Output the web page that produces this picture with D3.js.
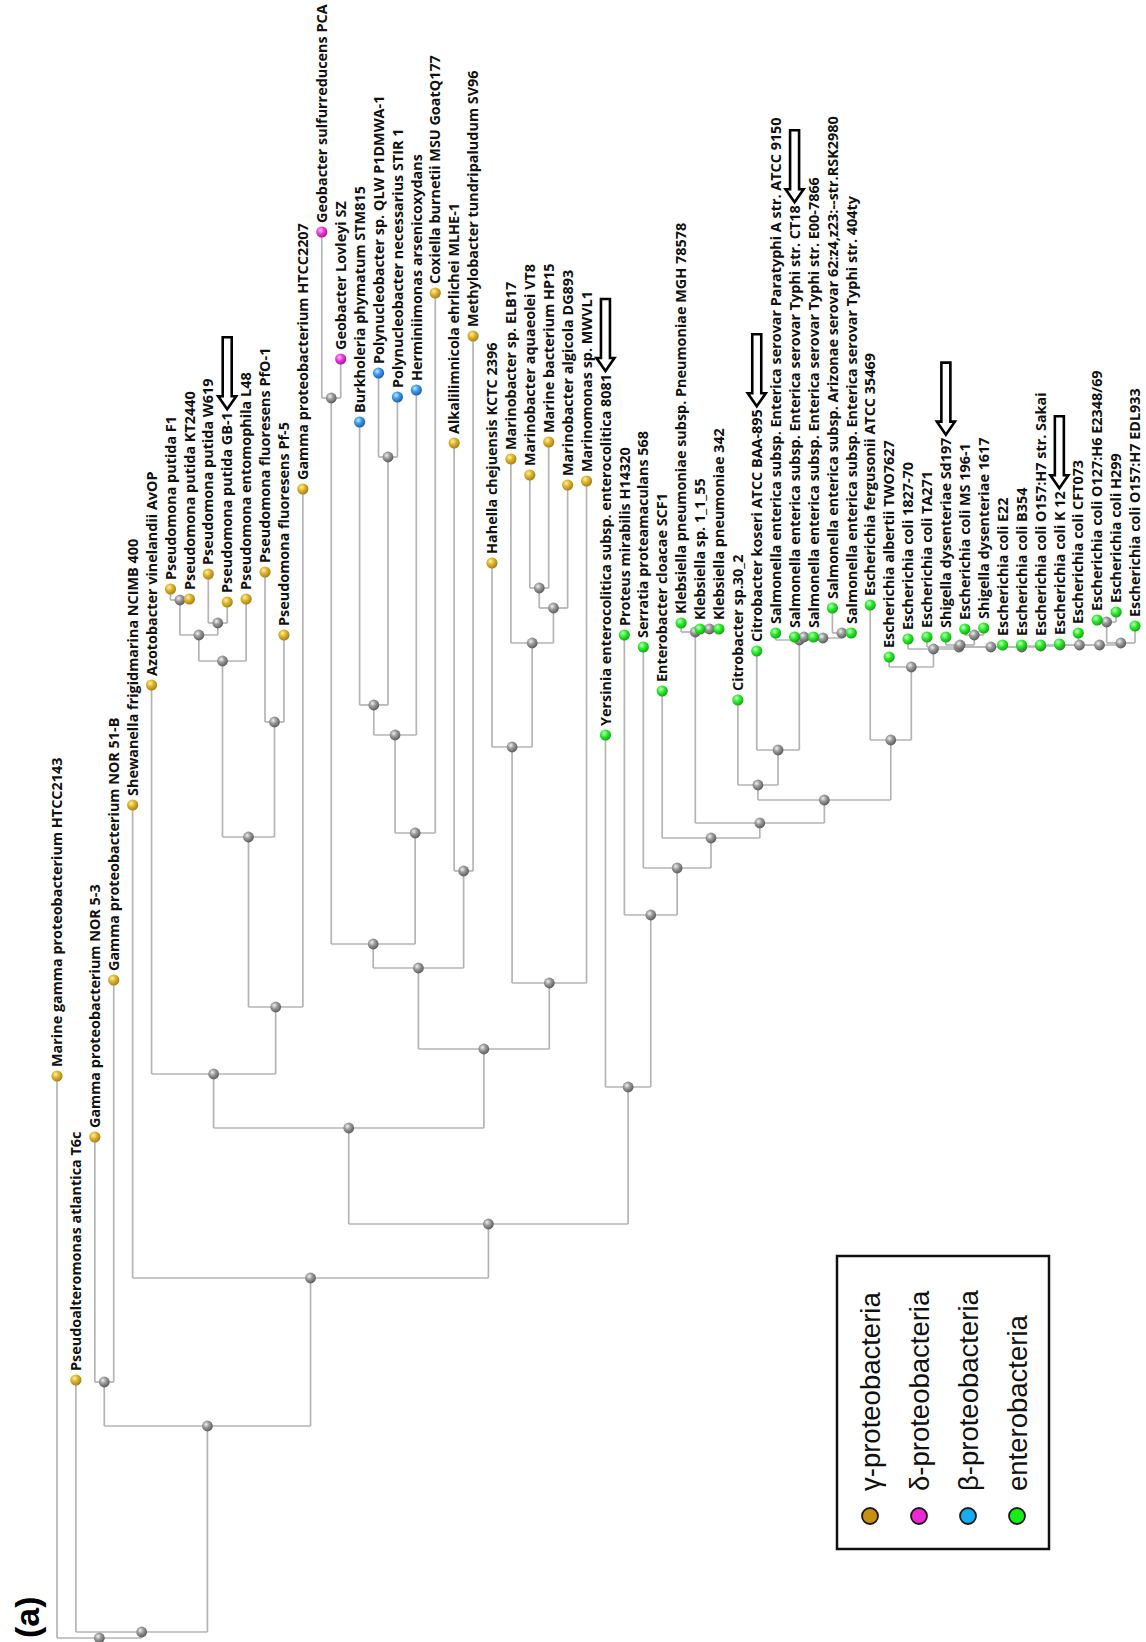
<!DOCTYPE html>
<html><head><meta charset="utf-8">
<script src="https://cdn.jsdelivr.net/npm/d3@7"></script>
<style>body{margin:0;background:#fff}svg{display:block}</style>
</head><body>
<svg id="c" width="1146" height="1642"></svg>
<script>
// ---- data ----
const leaves = [
 "Marine gamma proteobacterium HTCC2143","Pseudoalteromonas atlantica T6c","Gamma proteobacterium NOR 5-3",
 "Gamma proteobacterium NOR 51-B","Shewanella frigidmarina NCIMB 400","Azotobacter vinelandii AvOP",
 "Pseudomona putida F1","Pseudomona putida KT2440","Pseudomona putida W619","Pseudomona putida GB-1",
 "Pseudomona entomophila L48","Pseudomona fluoresens PfO-1","Pseudomona fluoresens Pf-5",
 "Gamma proteobacterium HTCC2207","Geobacter sulfurreducens PCA","Geobacter Lovleyi SZ",
 "Burkholeria phymatum STM815","Polynucleobacter sp. QLW P1DMWA-1","Polynucleobacter necessarius STIR 1",
 "Herminiimonas arsenicoxydans","Coxiella burnetii MSU GoatQ177","Alkalilimnicola ehrlichei MLHE-1",
 "Methylobacter tundripaludum SV96","Hahella chejuensis KCTC 2396","Marinobacter sp. ELB17",
 "Marinobacter aquaeolei VT8","Marine bacterium HP15","Marinobacter algicola DG893","Marinomonas sp. MWVL1",
 "Yersinia enterocolitica subsp. enterocolitica 8081","Proteus mirabilis H14320","Serratia proteamaculans 568",
 "Enterobacter cloacae SCF1","Klebsiella pneumoniae subsp. Pneumoniae MGH 78578","Klebsiella sp. 1_1_55",
 "Klebsiella pneumoniae 342","Citrobacter sp.30_2","Citrobacter koseri ATCC BAA-895",
 "Salmonella enterica subsp. Enterica serovar Paratyphi A str. ATCC 9150",
 "Salmonella enterica subsp. Enterica serovar Typhi str. CT18",
 "Salmonella enterica subsp. Enterica serovar Typhi str. E00-7866",
 "Salmonella enterica subsp. Arizonae serovar 62:z4,z23:--str.RSK2980",
 "Salmonella enterica subsp. Enterica serovar Typhi str. 404ty",
 "Escherichia fergusonii ATCC 35469","Escherichia albertii TWO7627","Escherichia coli 1827-70",
 "Escherichia coli TA271","Shigella dysenteriae Sd197","Escherichia coli MS 196-1","Shigella dysenteriae 1617",
 "Escherichia coli E22","Escherichia coli B354","Escherichia coli O157:H7 str. Sakai","Escherichia coli K 12",
 "Escherichia coli CFT073","Escherichia coli O127:H6 E2348/69","Escherichia coli H299","Escherichia coli O157:H7 EDL933"
];
const groups = [
 "g","g","g","g","g","g","g","g","g","g","g","g","g","g","d","d","b","b","b","b","g","g","g","g","g","g","g","g","g",
 "e","e","e","e","e","e","e","e","e","e","e","e","e","e","e","e","e","e","e","e","e","e","e","e","e","e","e","e","e"
];
// distance from root (tree units) of each leaf tip
const leafDist = [
 0.562,0.258,0.501,0.658,0.833,0.953,1.049,1.039,1.064,1.036,1.039,1.066,1.003,1.149,1.406,1.279,
 1.216,1.265,1.241,1.248,1.345,1.195,1.302,1.075,1.179,1.163,1.196,1.153,1.157,
 0.903,1.003,0.991,0.947,1.015,1.009,1.009,0.938,0.987,
 1.005,1.001,1.001,1.030,1.005,1.033,0.981,0.999,1.001,1.001,1.009,1.010,0.993,0.993,0.993,0.994,1.005,1.018,1.026,1.012
];
// internal clades: [id, child A, child B, distance from root]
const clades = [
 ["FK","Pseudomona putida F1","Pseudomona putida KT2440",1.038],
 ["WG","Pseudomona putida W619","Pseudomona putida GB-1",1.015],
 ["PN","FK","WG",1.003],
 ["Pput","PN","Pseudomona entomophila L48",0.977],
 ["Pfl","Pseudomona fluoresens PfO-1","Pseudomona fluoresens Pf-5",0.916],
 ["Pseud","Pput","Pfl",0.801],
 ["P","Pseud","Gamma proteobacterium HTCC2207",0.631],
 ["Az","Azotobacter vinelandii AvOP","P",0.564],
 ["Geo","Geobacter sulfurreducens PCA","Geobacter Lovleyi SZ",1.240],
 ["Poly","Polynucleobacter sp. QLW P1DMWA-1","Polynucleobacter necessarius STIR 1",1.181],
 ["B1","Burkholeria phymatum STM815","Poly",0.933],
 ["BB","B1","Herminiimonas arsenicoxydans",0.903],
 ["Beta","BB","Coxiella burnetii MSU GoatQ177",0.805],
 ["D","Geo","Beta",0.694],
 ["AM","Alkalilimnicola ehrlichei MLHE-1","Methylobacter tundripaludum SV96",0.767],
 ["C1","D","AM",0.670],
 ["Md","Marinobacter aquaeolei VT8","Marine bacterium HP15",1.050],
 ["Mc","Md","Marinobacter algicola DG893",1.030],
 ["Mb","Marinobacter sp. ELB17","Mc",0.995],
 ["Ma","Hahella chejuensis KCTC 2396","Mb",0.891],
 ["M","Ma","Marinomonas sp. MWVL1",0.655],
 ["B","C1","M",0.589],
 ["A","Az","B",0.510],
 ["K2","Klebsiella sp. 1_1_55","Klebsiella pneumoniae 342",1.009],
 ["K","Klebsiella pneumoniae subsp. Pneumoniae MGH 78578","K2",1.006],
 ["S4","Salmonella enterica subsp. Arizonae serovar 62:z4,z23:--str.RSK2980","Salmonella enterica subsp. Enterica serovar Typhi str. 404ty",1.005],
 ["S3","Salmonella enterica subsp. Enterica serovar Typhi str. CT18","Salmonella enterica subsp. Enterica serovar Typhi str. E00-7866",1.001],
 ["S2","S3","S4",1.000],
 ["Salm","Salmonella enterica subsp. Enterica serovar Paratyphi A str. ATCC 9150","S2",0.998],
 ["Cko","Citrobacter koseri ATCC BAA-895","Salm",0.888],
 ["C","Citrobacter sp.30_2","Cko",0.853],
 ["EC9","Escherichia coli O127:H6 E2348/69","Escherichia coli H299",1.016],
 ["EC8","EC9","Escherichia coli O157:H7 EDL933",0.995],
 ["EC7","Escherichia coli CFT073","EC8",0.993],
 ["EC6","Escherichia coli K 12","EC7",0.993],
 ["EC5","Escherichia coli O157:H7 str. Sakai","EC6",0.993],
 ["EC4","Escherichia coli B354","EC5",0.992],
 ["EC3","Escherichia coli E22","EC4",0.991],
 ["SH2","Escherichia coli MS 196-1","Shigella dysenteriae 1617",1.003],
 ["SH1","Shigella dysenteriae Sd197","SH2",0.993],
 ["EC2","SH1","EC3",0.991],
 ["EC1","Escherichia coli TA271","EC2",0.991],
 ["EC0","Escherichia coli 1827-70","EC1",0.989],
 ["Ea","Escherichia albertii TWO7627","EC0",0.971],
 ["Esch","Escherichia fergusonii ATCC 35469","Ea",0.898],
 ["E6","C","Esch",0.838],
 ["E5","K","E6",0.815],
 ["E4","Enterobacter cloacae SCF1","E5",0.800],
 ["E3","Serratia proteamaculans 568","E4",0.770],
 ["E2","Proteus mirabilis H14320","E3",0.723],
 ["E1","Yersinia enterocolitica subsp. enterocolitica 8081","E2",0.551],
 ["N5","A","E1",0.414],
 ["N4","Shewanella frigidmarina NCIMB 400","N5",0.360],
 ["N3","Gamma proteobacterium NOR 5-3","Gamma proteobacterium NOR 51-B",0.256],
 ["N2","N3","N4",0.212],
 ["N1","Pseudoalteromonas atlantica T6c","N2",0.006],
 ["R","Marine gamma proteobacterium HTCC2143","N1",0.000]
];
const arrowed = ["Pseudomona putida GB-1","Yersinia enterocolitica subsp. enterocolitica 8081",
 "Citrobacter koseri ATCC BAA-895","Salmonella enterica subsp. Enterica serovar Typhi str. CT18",
 "Shigella dysenteriae Sd197","Escherichia coli K 12"];
const legendKeys = ["g","d","b","e"];
const legendLabels = ["γ-proteobacteria","δ-proteobacteria","β-proteobacteria","enterobacteria"];

// ---- styles ----
const markColor = {g:["#fff2a8","#e0b52c","#a7801a"], d:["#ffc8f6","#f23ee0","#a81898"],
                   b:["#cfe8ff","#3c9cf2","#1c5fae"], e:["#d8ffd8","#2cf02c","#14a814"], n:["#f0f0f0","#9a9a9a","#5e5e5e"]};
const legendColor = {g:"#c98f10", d:"#ee28d2", b:"#19acef", e:"#16ef16"};

// ---- build tree ----
const store = new Map();
leaves.forEach((n,i)=>store.set(n,{name:n, dist:leafDist[i], group:groups[i]}));
clades.forEach(([id,a,b,d])=>store.set(id,{name:id, dist:d, children:[store.get(a),store.get(b)]}));
const root = d3.hierarchy(store.get("R"));

const x = d3.scalePoint().domain(leaves).range([57,1135]);
const y = d3.scaleLinear().domain([0,1.406]).range([1638,232]);
root.eachAfter(n=>{ n.px = n.children ? d3.mean(n.children,c=>c.px) : x(n.data.name); n.py = y(n.data.dist); });

const svg = d3.select("#c");
const defs = svg.append("defs");
Object.entries(markColor).forEach(([k,c])=>{
  const gr = defs.append("radialGradient").attr("id","grad-"+k).attr("cx","38%").attr("cy","35%").attr("r","65%");
  gr.append("stop").attr("offset","0%").attr("stop-color",c[0]);
  gr.append("stop").attr("offset","45%").attr("stop-color",c[1]);
  gr.append("stop").attr("offset","100%").attr("stop-color",c[2]);
});

const g = svg.append("g");
// vertical branches
g.append("g").selectAll("path").data(root.descendants().filter(d=>d.parent)).join("path")
  .attr("d",d=>`M${d.px},${d.py}V${d.parent.py}`)
  .attr("fill","none").attr("stroke","#b4b4b4").attr("stroke-width",1.7);
// horizontal connectors
g.append("g").selectAll("path").data(root.descendants().filter(d=>d.children)).join("path")
  .attr("d",d=>`M${d.children[0].px},${d.py}H${d.children[1].px}`)
  .attr("fill","none").attr("stroke","#b4b4b4").attr("stroke-width",1.7);
// node markers
g.append("g").selectAll("circle").data(root.descendants().filter(d=>d.children)).join("circle")
  .attr("cx",d=>d.px).attr("cy",d=>d.py).attr("r",5.4).attr("fill","url(#grad-n)");
g.append("g").selectAll("circle").data(root.leaves()).join("circle")
  .attr("cx",d=>d.px).attr("cy",d=>d.py).attr("r",5.6).attr("fill",d=>`url(#grad-${d.data.group})`);

// labels
const labels = g.append("g").selectAll("text").data(root.leaves()).join("text")
  .attr("transform",d=>`translate(${d.px},${d.py-9}) rotate(-90)`)
  .attr("dy","0.36em")
  .attr("font-family","'Open Sans', Lato, sans-serif").attr("font-weight",700).attr("font-size",14.4)
  .attr("fill","#111").text(d=>d.data.name);

// arrows
labels.each(function(d){
  if(!arrowed.includes(d.data.name)) return;
  const L = this.getComputedTextLength();
  const tip = d.py - 9 - L - 3;
  g.append("path")
   .attr("transform",`translate(${d.px},${tip})`)
   .attr("d","M0,0L-9,-13L-4.5,-13L-4.5,-72L4.5,-72L4.5,-13L9,-13Z")
   .attr("fill","#fff").attr("stroke","#000").attr("stroke-width",2.6).attr("stroke-linejoin","miter");
});

// panel tag
svg.append("text").attr("transform","translate(27,1638) rotate(-90)").attr("dy","0.36em")
  .attr("font-family","'Liberation Sans', Arial, sans-serif").attr("font-weight",700).attr("font-size",34)
  .text("(a)");

// legend
const lg = svg.append("g");
lg.append("rect").attr("x",837).attr("y",1256).attr("width",212).attr("height",293)
  .attr("fill","#fff").attr("stroke","#111").attr("stroke-width",2.5);
const lx = d3.scalePoint().domain(legendKeys).range([870,1017]);
lg.selectAll("circle").data(legendKeys).join("circle")
  .attr("cx",k=>lx(k)).attr("cy",1516).attr("r",8).attr("fill",k=>legendColor[k])
  .attr("stroke","#1a1a1a").attr("stroke-width",1.8);
lg.selectAll("text").data(legendKeys).join("text")
  .attr("transform",k=>`translate(${lx(k)},1491) rotate(-90)`).attr("dy","0.36em")
  .attr("font-family","'Liberation Sans', Arial, sans-serif").attr("font-size",27.5).attr("fill","#111")
  .text((k,i)=>legendLabels[i]);
</script>
</body></html>
